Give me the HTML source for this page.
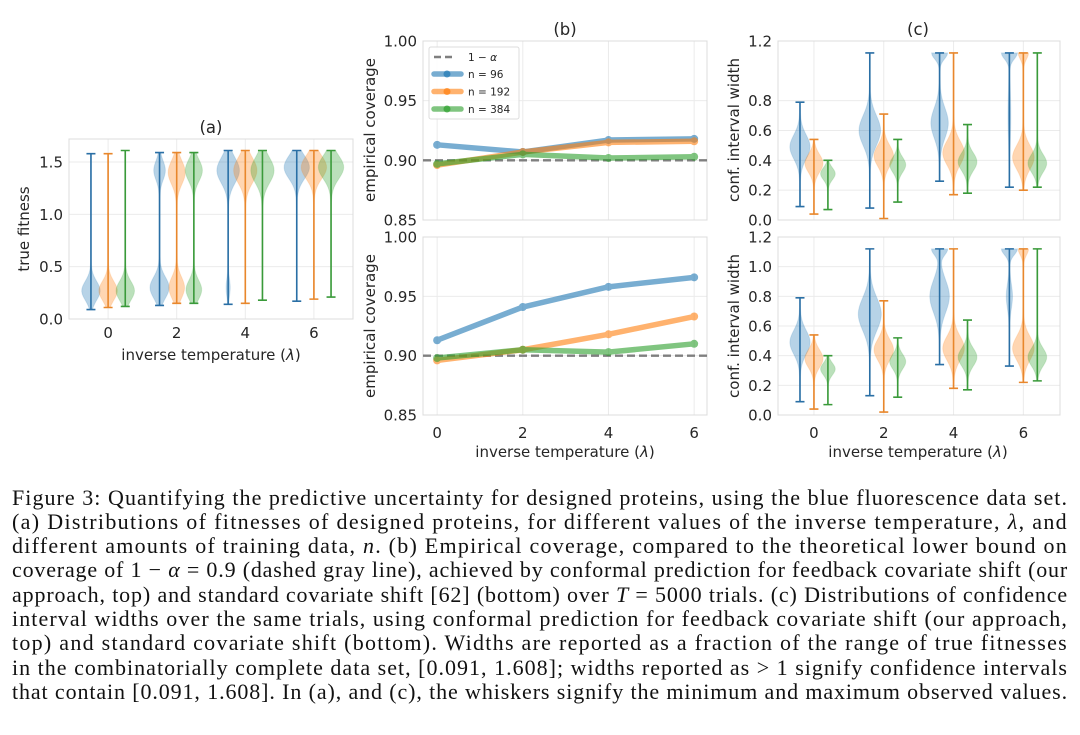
<!DOCTYPE html>
<html><head><meta charset="utf-8">
<style>
html,body{margin:0;padding:0;background:#fff;}
#wrap{position:relative;width:1080px;height:735px;overflow:hidden;}
svg text{font-family:"DejaVu Sans","Liberation Sans",sans-serif;fill:#262626;}
.cap{position:absolute;left:12px;font-family:"Liberation Serif",serif;font-size:22px;color:#111;white-space:nowrap;line-height:24px;display:inline-block;}
</style></head>
<body>
<div id="wrap">
<svg id="fig" width="1080" height="470" viewBox="0 0 1080 470" style="position:absolute;left:0;top:0"></svg>
<div class="cap" style="top:486px">Figure 3: Quantifying the predictive uncertainty for designed proteins, using the blue fluorescence data set.</div>
<div class="cap" style="top:510px">(a) Distributions of fitnesses of designed proteins, for different values of the inverse temperature, <i>λ</i>, and</div>
<div class="cap" style="top:534px">different amounts of training data, <i>n</i>. (b) Empirical coverage, compared to the theoretical lower bound on</div>
<div class="cap" style="top:558px">coverage of 1 − <i>α</i> = 0.9 (dashed gray line), achieved by conformal prediction for feedback covariate shift (our</div>
<div class="cap" style="top:583px">approach, top) and standard covariate shift [62] (bottom) over <i>T</i> = 5000 trials. (c) Distributions of confidence</div>
<div class="cap" style="top:607px">interval widths over the same trials, using conformal prediction for feedback covariate shift (our approach,</div>
<div class="cap" style="top:631px">top) and standard covariate shift (bottom). Widths are reported as a fraction of the range of true fitnesses</div>
<div class="cap" style="top:656px">in the combinatorially complete data set, [0.091, 1.608]; widths reported as &gt; 1 signify confidence intervals</div>
<div class="cap" style="top:680px">that contain [0.091, 1.608]. In (a), and (c), the whiskers signify the minimum and maximum observed values.</div>
</div>
<script>
// ---------- data ----------
const lambdas = [0, 2, 4, 6];
const seriesNames = ["n = 96", "n = 192", "n = 384"];
const covTop96  = [0.913, 0.907, 0.917, 0.918];
const covTop192 = [0.896, 0.907, 0.915, 0.916];
const covTop384 = [0.897, 0.905, 0.902, 0.903];
const covBot96  = [0.913, 0.941, 0.958, 0.966];
const covBot192 = [0.896, 0.905, 0.918, 0.933];
const covBot384 = [0.898, 0.905, 0.903, 0.910];
const alphaLine = 0.9;
const fitness96  = [[0.09,1.58,[[0.27,0.09,0.26]]],[0.13,1.59,[[0.30,0.10,0.27],[1.42,0.09,0.16]]],[0.14,1.61,[[1.42,0.12,0.32],[0.30,0.08,0.05]]],[0.17,1.61,[[1.45,0.11,0.36]]]];
const fitness192 = [[0.11,1.58,[[0.27,0.09,0.26]]],[0.15,1.59,[[0.30,0.10,0.22],[1.40,0.11,0.24]]],[0.15,1.61,[[1.42,0.12,0.33]]],[0.19,1.61,[[1.45,0.11,0.36]]]];
const fitness384 = [[0.12,1.61,[[0.27,0.09,0.26]]],[0.15,1.59,[[0.28,0.09,0.22],[1.42,0.10,0.24]]],[0.18,1.61,[[1.42,0.12,0.33]]],[0.21,1.61,[[1.45,0.11,0.36]]]];
const widthTop96  = [[0.09,0.79,[[0.49,0.08,0.28]]],[0.08,1.12,[[0.60,0.10,0.30]]],[0.26,1.12,[[0.65,0.10,0.24],[1.12,0.04,0.22]]],[0.22,1.12,[[1.12,0.04,0.22],[0.70,0.15,0.03]]]];
const widthTop192 = [[0.04,0.54,[[0.38,0.06,0.25]]],[0.01,0.71,[[0.43,0.07,0.27]]],[0.17,1.12,[[0.45,0.08,0.30]]],[0.20,1.12,[[0.42,0.08,0.30],[1.12,0.04,0.14]]]];
const widthTop384 = [[0.07,0.40,[[0.31,0.04,0.20]]],[0.12,0.54,[[0.37,0.05,0.22]]],[0.18,0.64,[[0.39,0.06,0.26]]],[0.22,1.12,[[0.38,0.06,0.26]]]];
const widthBot96  = [[0.09,0.79,[[0.49,0.08,0.28]]],[0.13,1.12,[[0.68,0.11,0.32]]],[0.34,1.12,[[0.80,0.11,0.27],[1.12,0.04,0.22]]],[0.33,1.12,[[1.12,0.04,0.22],[0.80,0.08,0.08]]]];
const widthBot192 = [[0.04,0.54,[[0.38,0.06,0.25]]],[0.02,0.77,[[0.44,0.07,0.27]]],[0.18,1.12,[[0.45,0.08,0.30]]],[0.22,1.12,[[0.45,0.08,0.30],[1.12,0.04,0.14]]]];
const widthBot384 = [[0.07,0.40,[[0.31,0.04,0.20]]],[0.12,0.52,[[0.36,0.05,0.22]]],[0.17,0.64,[[0.39,0.06,0.26]]],[0.23,1.12,[[0.39,0.06,0.26]]]];
const ticksA = [0, 0.5, 1.0, 1.5];
const ticksB = [0.85, 0.90, 0.95, 1.00];
const ticksCTop = [0, 0.2, 0.4, 0.6, 0.8, 1.2];
const ticksCBot = [0, 0.2, 0.4, 0.6, 0.8, 1.0, 1.2];

// ---------- drawing ----------
const NS = "http://www.w3.org/2000/svg";
const svg = document.getElementById("fig");
const colors = ["#1f77b4", "#ff7f0e", "#2ca02c"];
const lineCols = ["#2a6fa5", "#e8872c", "#3a9a3a"];
const FS = 15;
function mk(tag, attrs, parent) {
  const e = document.createElementNS(NS, tag);
  for (const k in attrs) e.setAttribute(k, attrs[k]);
  (parent || svg).appendChild(e);
  return e;
}
function axes(name, L, R, T, B, xmin, xmax, ymin, ymax, yticks, fmt) {
  const g = mk("g", {});
  
  
  const sx = v => L + (v - xmin) / (xmax - xmin) * (R - L);
  const sy = v => B - (v - ymin) / (ymax - ymin) * (B - T);
  lambdas.forEach(l => {
    const gl = mk("line", {x1: sx(l), x2: sx(l), y1: T, y2: B, stroke: "#ebebeb", "stroke-width": 1}, g);
    
    
  });
  yticks.forEach(t => {
    const gl = mk("line", {x1: L, x2: R, y1: sy(t), y2: sy(t), stroke: "#ebebeb", "stroke-width": 1}, g);
    
    
    const tx = mk("text", {x: L - 6, y: sy(t) + 5.5, "text-anchor": "end", "font-size": FS}, g);
    tx.textContent = fmt(t);
    
    
  });
  const fr = mk("rect", {x: L, y: T, width: R - L, height: B - T, fill: "none", stroke: "#dcdcdc", "stroke-width": 1}, g);
  
  
  return {g, sx, sy, L, R, T, B};
}
function xticks(ax, y) {
  lambdas.forEach(l => {
    const t = mk("text", {x: ax.sx(l), y: y, "text-anchor": "middle", "font-size": FS}, ax.g);
    t.textContent = l;
    
    
  });
}
function label(txt, x, y, rot, name, size) {
  const t = mk("text", {x, y, "text-anchor": "middle", "font-size": size || FS});
  if (rot) t.setAttribute("transform", `rotate(-90 ${x} ${y})`);
  t.innerHTML = txt;
  
  
}
function violin(ax, xc, v, ci, unitPx) {
  const [mn, mx, modes] = v;
  const g = mk("g", {}, ax.g);
  
  
  const N = 60, pts = [], ptsL = [];
  for (let i = 0; i <= N; i++) {
    const y = mn + (mx - mn) * i / N;
    let w = 0.01;
    modes.forEach(([mu, s, a]) => { w += a * Math.exp(-((y - mu) ** 2) / (2 * s * s)); });
    pts.push([ax.sx(xc) + w * unitPx, ax.sy(y)]);
    ptsL.unshift([ax.sx(xc) - w * unitPx, ax.sy(y)]);
  }
  const poly = mk("polygon", {points: pts.concat(ptsL).map(p => p.join(",")).join(" "), fill: colors[ci], "fill-opacity": 0.32, stroke: colors[ci], "stroke-opacity": 0.15}, g);
  
  
  const X = ax.sx(xc), cw = 4.5;
  const ln = mk("path", {d: `M${X},${ax.sy(mn)}V${ax.sy(mx)}M${X - cw},${ax.sy(mn)}H${X + cw}M${X - cw},${ax.sy(mx)}H${X + cw}`, stroke: lineCols[ci], "stroke-width": 1.6, fill: "none"}, g);
  
  
}
function violinPanel(ax, sets, off) {
  const unitPx = ax.sx(1) - ax.sx(0);
  sets.forEach((set, ci) => set.forEach((v, i) => violin(ax, lambdas[i] + off[ci], v, ci, unitPx)));
}
function linePanel(ax, sets) {
  const d = mk("line", {x1: ax.L, x2: ax.R, y1: ax.sy(alphaLine), y2: ax.sy(alphaLine), stroke: "#7f7f7f", "stroke-width": 2.4, "stroke-dasharray": "8,4"}, ax.g);
  
  
  sets.forEach((vals, ci) => {
    const g = mk("g", {opacity: 0.6}, ax.g);
    
    
    const p = mk("polyline", {points: vals.map((v, i) => ax.sx(lambdas[i]) + "," + ax.sy(v)).join(" "), fill: "none", stroke: colors[ci], "stroke-width": 5.5, "stroke-linejoin": "round"}, g);
    
    
    vals.forEach((v, i) => {
      const c = mk("circle", {cx: ax.sx(lambdas[i]), cy: ax.sy(v), r: 4, fill: colors[ci]}, g);
      
      
    });
  });
}
const f1 = t => t.toFixed(1), f2 = t => t.toFixed(2);

// Panel (a)
const axA = axes("panel-a", 69, 353, 139, 319, -1.14, 7.14, 0, 1.72, ticksA, f1);
violinPanel(axA, [fitness96, fitness192, fitness384], [-0.5, 0, 0.5]);
xticks(axA, 338);
label("(a)", 211, 133, false, "panel-a-title", 16.5);
label("true fitness", 29, 229, true, "panel-a-y-title");
label("inverse temperature (<tspan font-style='italic'>λ</tspan>)", 211, 360, false, "panel-a-x-title");

// Panel (b)
const axB1 = axes("panel-b-top", 423, 707, 41, 220, -0.33, 6.3, 0.85, 1.0, ticksB, f2);
linePanel(axB1, [covTop96, covTop192, covTop384]);
const axB2 = axes("panel-b-bottom", 423, 707, 237, 415, -0.33, 6.3, 0.85, 1.0, ticksB, f2);
linePanel(axB2, [covBot96, covBot192, covBot384]);
xticks(axB2, 438);
label("(b)", 565, 35, false, "panel-b-title", 16.5);
label("empirical coverage", 375, 130, true, "panel-b-top-y-title");
label("empirical coverage", 375, 326, true, "panel-b-bottom-y-title");
label("inverse temperature (<tspan font-style='italic'>λ</tspan>)", 565, 457, false, "panel-b-x-title");
(function () {
  const g = mk("g", {});
  
  
  const bx = mk("rect", {x: 429, y: 47, width: 90, height: 72, fill: "#fff", "fill-opacity": 0.85, stroke: "#dcdcdc", rx: 2}, g);
  
  
  const dl = mk("line", {x1: 434, x2: 456, y1: 57, y2: 57, stroke: "#7f7f7f", "stroke-width": 2.4, "stroke-dasharray": "7,4"}, g);
  
  
  const t0 = mk("text", {x: 468, y: 61, "font-size": 10.5}, g);
  t0.innerHTML = "1 − <tspan font-style='italic'>α</tspan>";
  
  
  seriesNames.forEach((n, i) => {
    const y = 74 + i * 17.5;
    const sw = mk("line", {x1: 434, x2: 461, y1: y, y2: y, stroke: colors[i], "stroke-width": 5.5, opacity: 0.6, "stroke-linecap": "round"}, g);
    
    
    const c = mk("circle", {cx: 447, cy: y, r: 3.5, fill: colors[i], opacity: 0.7}, g);
    
    
    const t = mk("text", {x: 468, y: y + 4, "font-size": 10.5}, g);
    t.textContent = n;
    
    
  });
})();

// Panel (c)
const axC1 = axes("panel-c-top", 778, 1060, 41, 220, -1.03, 7.05, 0, 1.2, ticksCTop, f1);
violinPanel(axC1, [widthTop96, widthTop192, widthTop384], [-0.4, 0, 0.4]);
const axC2 = axes("panel-c-bottom", 778, 1060, 237, 415, -1.03, 7.05, 0, 1.2, ticksCBot, f1);
violinPanel(axC2, [widthBot96, widthBot192, widthBot384], [-0.4, 0, 0.4]);
xticks(axC2, 438);
label("(c)", 918, 35, false, "panel-c-title", 16.5);
label("conf. interval width", 739, 130, true, "panel-c-top-y-title");
label("conf. interval width", 739, 326, true, "panel-c-bottom-y-title");
label("inverse temperature (<tspan font-style='italic'>λ</tspan>)", 918, 457, false, "panel-c-x-title");

// fit caption lines to full width
document.querySelectorAll('.cap').forEach(el => {
  const w = el.getBoundingClientRect().width;
  const n = el.textContent.length;
  el.style.letterSpacing = ((1056 - w) / n) + 'px';
});
</script>
</body></html>
